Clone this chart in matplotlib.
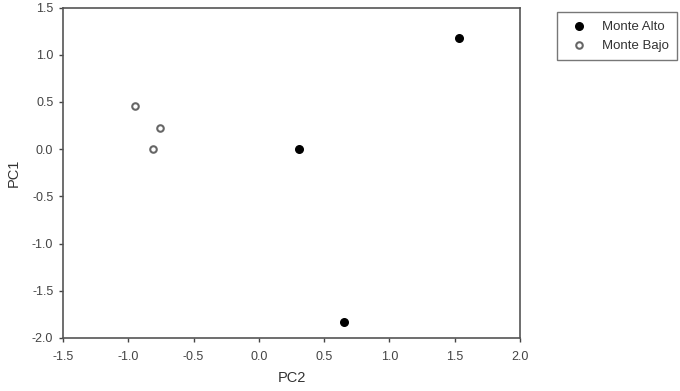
import matplotlib
matplotlib.use("Agg")
import matplotlib.pyplot as plt

plt.rcParams['font.family'] = ['Liberation Sans', 'DejaVu Sans']

alto_x = [1.53, 0.31, 0.65]
alto_y = [1.18, 0.0, -1.83]
bajo_x = [-0.95, -0.76, -0.81]
bajo_y = [0.46, 0.22, 0.0]
xticks = [-1.5, -1.0, -0.5, 0.0, 0.5, 1.0, 1.5, 2.0]
yticks = [-2.0, -1.5, -1.0, -0.5, 0.0, 0.5, 1.0, 1.5]

fig = plt.figure(figsize=(6.8, 3.91), dpi=100)
ax = fig.add_axes([63/680, 1-338/391, (520-63)/680, (338-7.5)/391])
ax.scatter(alto_x, alto_y, s=30, c='black', edgecolors='black', linewidths=1, label='Monte Alto', zorder=3)
ax.scatter(bajo_x, bajo_y, s=22, facecolors='white', edgecolors='#666666', linewidths=1.5, label='Monte Bajo', zorder=3)
ax.set_xlim(-1.5, 2.0)
ax.set_ylim(-2.0, 1.5)
ax.set_xticks(xticks)
ax.set_yticks(yticks)
ax.set_xticklabels([f"{v:.1f}" for v in xticks])
ax.set_yticklabels([f"{v:.1f}" for v in yticks])
ax.tick_params(axis='both', direction='out', length=3, width=1.0, labelsize=9, colors='#444444')
ax.tick_params(axis='x', pad=6)
ax.tick_params(axis='y', pad=4)
for s in ax.spines.values():
    s.set_color('#555555')
    s.set_linewidth(1.2)
ax.set_xlabel('PC2', fontsize=10.5, color='#333333', labelpad=6)
ax.set_ylabel('PC1', fontsize=10.5, color='#333333', labelpad=8)
leg = fig.legend(loc='upper left', bbox_to_anchor=(557/680, 1-12/391), fontsize=9.5,
                 frameon=True, fancybox=False, edgecolor='#555555', borderpad=0.65,
                 handletextpad=0.75, labelspacing=0.5, handlelength=2.0, borderaxespad=0)
leg.get_frame().set_linewidth(1.0)
for t in leg.get_texts():
    t.set_color('#333333')
fig.savefig('out.png', dpi=100)
